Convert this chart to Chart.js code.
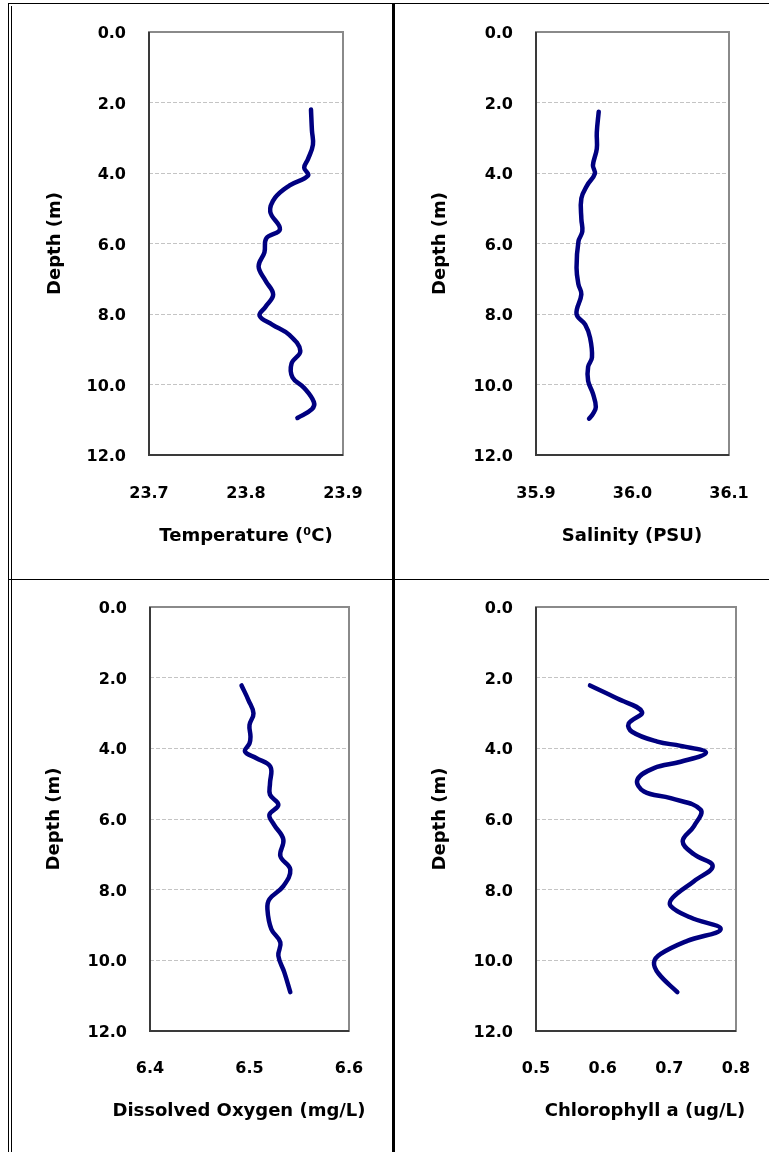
<!DOCTYPE html>
<html>
<head>
<meta charset="utf-8">
<script src="https://cdn.jsdelivr.net/npm/chart.js@4"></script>
<style>
  body { margin: 0; background: #fff; width: 769px; height: 1152px; position: relative; overflow: hidden; }
  .ln { position: absolute; background: #000; }
  canvas { position: absolute; }
</style>
</head>
<body>
<div class="ln" style="left:8px;top:3px;width:761px;height:1px"></div>
<div class="ln" style="left:8px;top:3px;width:1px;height:1149px"></div>
<div class="ln" style="left:11px;top:6px;width:1px;height:1146px"></div>
<div class="ln" style="left:392px;top:3px;width:3px;height:1149px"></div>
<div class="ln" style="left:8px;top:579px;width:761px;height:1px"></div>

<canvas id="temp" width="380" height="575" style="left:12px;top:4px"></canvas>
<canvas id="sal" width="374" height="575" style="left:395px;top:4px"></canvas>
<canvas id="oxy" width="380" height="572" style="left:12px;top:580px"></canvas>
<canvas id="chl" width="374" height="572" style="left:395px;top:580px"></canvas>

<script>
// depth ticks shared by all four profiles
const depthTicks = [0, 2, 4, 6, 8, 10, 12];

// temperature profile
const tempDepth  = [2.2, 2.8, 3.2, 3.6, 3.85, 4.07, 4.35, 4.7, 5.1, 5.6, 5.85, 6.25, 6.65, 7.05, 7.45, 7.8, 8.05, 8.3, 8.6, 9.05, 9.4, 9.8, 10.1, 10.5, 10.7, 10.95];
const tempValues = [23.867, 23.868, 23.869, 23.864, 23.860, 23.864, 23.845, 23.830, 23.825, 23.835, 23.821, 23.819, 23.813, 23.820, 23.828, 23.820, 23.814, 23.827, 23.845, 23.856, 23.847, 23.848, 23.860, 23.870, 23.868, 23.853];
const tempTicks  = [23.7, 23.8, 23.9];

// salinity profile
const salDepth  = [2.26, 2.85, 3.31, 3.78, 4.02, 4.35, 4.72, 5.3, 5.66, 5.94, 6.69, 7.16, 7.44, 8.0, 8.3, 8.67, 9.23, 9.5, 9.9, 10.26, 10.64, 10.83, 10.97];
const salValues = [35.965, 35.963, 35.963, 35.959, 35.961, 35.953, 35.947, 35.947, 35.948, 35.944, 35.942, 35.944, 35.947, 35.942, 35.951, 35.956, 35.958, 35.954, 35.954, 35.959, 35.962, 35.959, 35.955];
const salTicks  = [35.9, 36.0, 36.1];

// dissolved oxygen profile
const oxyDepth  = [2.22, 2.64, 3.01, 3.34, 3.67, 3.86, 4.09, 4.28, 4.52, 4.99, 5.31, 5.6, 5.88, 6.16, 6.58, 7.05, 7.43, 7.9, 8.27, 8.55, 9.12, 9.49, 9.87, 10.34, 10.9];
const oxyValues = [6.492, 6.499, 6.504, 6.500, 6.501, 6.500, 6.4955, 6.507, 6.521, 6.5206, 6.5206, 6.529, 6.520, 6.5246, 6.534, 6.531, 6.541, 6.534, 6.520, 6.518, 6.522, 6.531, 6.529, 6.535, 6.541];
const oxyTicks  = [6.4, 6.5, 6.6];

// chlorophyll a profile
const chlDepth  = [2.22, 2.59, 2.97, 3.3, 3.53, 3.81, 3.93, 4.12, 4.38, 4.56, 4.89, 5.22, 5.41, 5.74, 6.2, 6.63, 7.0, 7.33, 7.76, 8.23, 8.46, 8.79, 9.12, 9.45, 9.82, 10.06, 10.38, 10.9];
const chlValues = [0.581, 0.622, 0.659, 0.639, 0.644, 0.682, 0.717, 0.755, 0.717, 0.677, 0.652, 0.662, 0.702, 0.747, 0.737, 0.720, 0.737, 0.765, 0.737, 0.705, 0.702, 0.732, 0.777, 0.727, 0.687, 0.677, 0.684, 0.712];
const chlTicks  = [0.5, 0.6, 0.7, 0.8];

const FONT = 'DejaVu Sans';

// plot frame: grey top/right, dark left/bottom
const framePlugin = {
  id: 'frame',
  afterDatasetsDraw(chart) {
    const { ctx, chartArea: a } = chart;
    ctx.save();
    ctx.lineWidth = 2;
    ctx.strokeStyle = '#8a8a8a';
    ctx.strokeRect(a.left, a.top, a.right - a.left, a.bottom - a.top);
    ctx.strokeStyle = '#3a3a3a';
    ctx.beginPath();
    ctx.moveTo(a.left, a.top);
    ctx.lineTo(a.left, a.bottom);
    ctx.lineTo(a.right, a.bottom);
    ctx.stroke();
    ctx.restore();
  }
};

// x axis title is wider than the plot in one panel, so draw it here
function xTitlePlugin(text, cx, cy) {
  return {
    id: 'xtitle',
    afterDraw(chart) {
      const ctx = chart.ctx;
      ctx.save();
      ctx.font = 'bold 18px "' + FONT + '"';
      ctx.fillStyle = '#000';
      ctx.textAlign = 'center';
      ctx.textBaseline = 'middle';
      ctx.fillText(text, cx, cy);
      ctx.restore();
    }
  };
}

function noPad(s) {
  s.paddingLeft = 0; s.paddingRight = 0; s.paddingTop = 0; s.paddingBottom = 0;
}

function profile(id, values, depths, xTicks, xTitle, box) {
  const pts = values.map((v, i) => ({ x: v, y: depths[i] }));
  return new Chart(document.getElementById(id), {
    type: 'scatter',
    data: {
      datasets: [{
        data: pts,
        showLine: true,
        borderColor: '#000080',
        borderWidth: 4.5,
        borderCapStyle: 'round',
        borderJoinStyle: 'round',
        tension: 0.4,
        pointRadius: 0
      }]
    },
    options: {
      responsive: false,
      animation: false,
      devicePixelRatio: 1,
      layout: { padding: { left: 0, top: box.top, right: box.right, bottom: 0 } },
      plugins: { legend: { display: false }, tooltip: { enabled: false } },
      scales: {
        x: {
          type: 'linear',
          min: xTicks[0],
          max: xTicks[xTicks.length - 1],
          afterBuildTicks: s => { s.ticks = xTicks.map(v => ({ value: v })); },
          afterFit: s => { s.height = box.xh; noPad(s); },
          grid: { display: false, drawTicks: false },
          border: { display: false },
          ticks: {
            color: '#000',
            padding: box.xp,
            maxRotation: 0,
            font: { family: FONT, size: 16, weight: 'bold' },
            callback: v => Number(v).toFixed(1)
          }
        },
        y: {
          type: 'linear',
          reverse: true,
          min: 0,
          max: 12,
          afterBuildTicks: s => { s.ticks = depthTicks.map(v => ({ value: v })); },
          afterFit: s => { s.width = box.left; noPad(s); },
          grid: { color: '#c4c4c4', lineWidth: 1, drawTicks: false },
          border: { display: false, dash: [4, 2] },
          ticks: {
            color: '#000',
            padding: 23,
            labelOffset: 2,
            font: { family: FONT, size: 16, weight: 'bold' },
            callback: v => Number(v).toFixed(1)
          },
          title: {
            display: true,
            text: 'Depth (m)',
            color: '#000',
            font: { family: FONT, size: 18, weight: 'bold', lineHeight: 1.2 },
            padding: { top: box.yt, bottom: 0 }
          }
        }
      }
    },
    plugins: [framePlugin, xTitlePlugin(xTitle, box.tx, box.ty)]
  });
}

profile('temp', tempValues, tempDepth, tempTicks, 'Temperature (\u2070C)',
  { left: 137, right: 49, top: 28, xh: 124, xp: 29, yt: 33, tx: 234, ty: 532 });
profile('sal', salValues, salDepth, salTicks, 'Salinity (PSU)',
  { left: 141, right: 40, top: 28, xh: 124, xp: 29, yt: 35, tx: 237, ty: 532 });
profile('oxy', oxyValues, oxyDepth, oxyTicks, 'Dissolved Oxygen (mg/L)',
  { left: 138, right: 43, top: 27, xh: 121, xp: 28, yt: 32, tx: 227, ty: 531 });
profile('chl', chlValues, chlDepth, chlTicks, 'Chlorophyll a (ug/L)',
  { left: 141, right: 33, top: 27, xh: 121, xp: 28, yt: 35, tx: 250, ty: 531 });
</script>
</body>
</html>
